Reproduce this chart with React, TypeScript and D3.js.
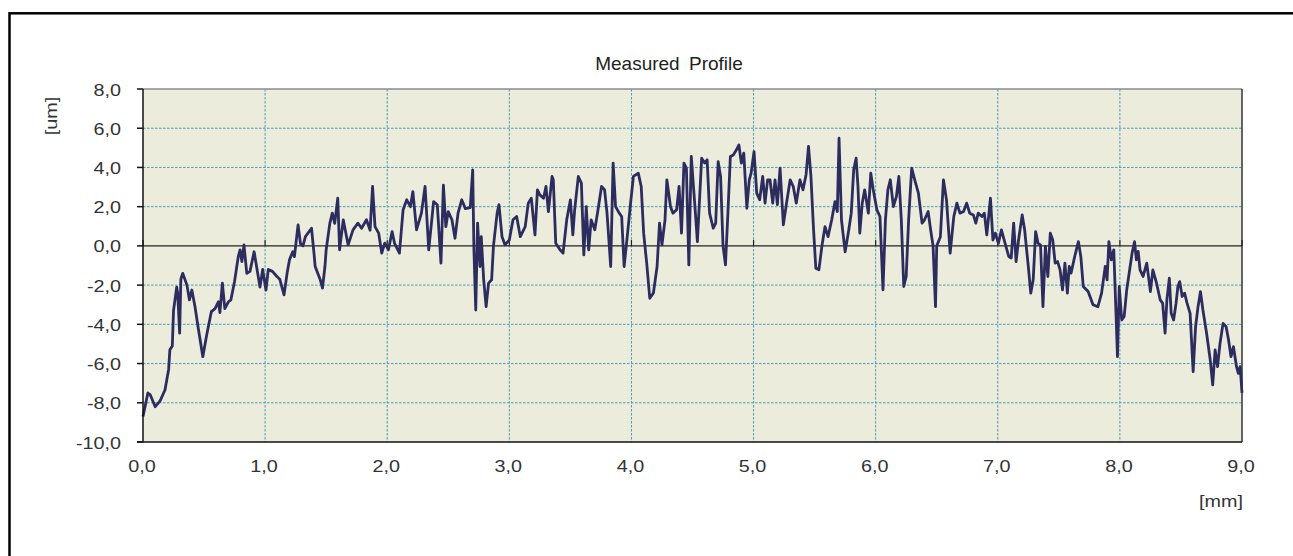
import React from "react";
import * as d3 from "d3";

const title = "Measured Profile";
const yUnit = "[um]";
const xUnit = "[mm]";
const xTicks = [0, 1, 2, 3, 4, 5, 6, 7, 8, 9];
const yTicks = [-10, -8, -6, -4, -2, 0, 2, 4, 6, 8];

const profileX = [0.00,0.04,0.06,0.10,0.14,0.18,0.21,0.22,0.24,0.25,0.276,0.284,0.30,0.31,0.325,0.36,0.38,0.40,0.426,0.45,0.49,0.52,0.56,0.59,0.617,0.63,0.65,0.67,0.70,0.72,0.75,0.78,0.795,0.81,0.827,0.85,0.876,0.91,0.93,0.958,0.98,1.007,1.026,1.06,1.095,1.12,1.155,1.18,1.20,1.226,1.24,1.27,1.29,1.31,1.33,1.38,1.40,1.41,1.45,1.47,1.49,1.50,1.53,1.55,1.57,1.595,1.61,1.64,1.68,1.72,1.76,1.79,1.83,1.86,1.88,1.90,1.93,1.955,1.98,2.01,2.04,2.06,2.10,2.13,2.16,2.19,2.21,2.24,2.28,2.31,2.34,2.38,2.41,2.44,2.46,2.48,2.50,2.53,2.555,2.58,2.61,2.64,2.68,2.70,2.71,2.725,2.74,2.76,2.77,2.79,2.81,2.83,2.855,2.87,2.90,2.915,2.94,2.965,3.0,3.03,3.06,3.09,3.13,3.155,3.18,3.21,3.23,3.25,3.28,3.30,3.32,3.35,3.36,3.38,3.415,3.44,3.47,3.50,3.52,3.535,3.565,3.59,3.61,3.63,3.65,3.67,3.70,3.73,3.755,3.78,3.80,3.83,3.85,3.87,3.90,3.92,3.94,3.96,3.99,4.016,4.056,4.08,4.10,4.125,4.15,4.18,4.21,4.23,4.25,4.275,4.29,4.32,4.34,4.37,4.39,4.41,4.43,4.45,4.47,4.49,4.52,4.54,4.575,4.60,4.62,4.64,4.67,4.69,4.71,4.73,4.75,4.77,4.79,4.81,4.835,4.86,4.88,4.90,4.92,4.945,4.965,4.98,5.004,5.026,5.05,5.075,5.094,5.115,5.135,5.157,5.176,5.195,5.217,5.244,5.27,5.30,5.325,5.35,5.38,5.405,5.43,5.45,5.47,5.49,5.51,5.535,5.56,5.585,5.61,5.64,5.667,5.686,5.70,5.72,5.75,5.78,5.80,5.82,5.84,5.855,5.87,5.89,5.91,5.94,5.96,5.98,6.01,6.035,6.06,6.08,6.10,6.12,6.145,6.17,6.19,6.21,6.23,6.25,6.27,6.295,6.32,6.35,6.38,6.40,6.43,6.45,6.47,6.49,6.50,6.53,6.555,6.58,6.61,6.64,6.665,6.69,6.72,6.745,6.77,6.80,6.82,6.84,6.87,6.89,6.91,6.94,6.96,6.98,7.005,7.03,7.06,7.09,7.11,7.13,7.15,7.17,7.20,7.22,7.25,7.27,7.29,7.31,7.33,7.35,7.37,7.39,7.41,7.43,7.45,7.47,7.49,7.51,7.53,7.55,7.57,7.585,7.60,7.63,7.66,7.68,7.70,7.74,7.78,7.82,7.85,7.88,7.895,7.91,7.93,7.95,7.97,7.98,7.995,8.015,8.035,8.056,8.08,8.10,8.12,8.135,8.15,8.165,8.19,8.22,8.25,8.27,8.30,8.33,8.35,8.37,8.385,8.405,8.42,8.44,8.46,8.475,8.49,8.51,8.53,8.55,8.575,8.60,8.62,8.64,8.66,8.68,8.71,8.74,8.76,8.78,8.80,8.82,8.845,8.87,8.89,8.91,8.93,8.955,8.97,8.985,9.0];

const profileY = [-8.7,-7.5,-7.6,-8.2,-7.9,-7.35,-6.3,-5.3,-5.1,-3.3,-2.1,-2.4,-4.45,-1.7,-1.4,-2.0,-2.75,-2.25,-3.1,-4.1,-5.65,-4.6,-3.35,-3.2,-2.85,-3.4,-1.9,-3.2,-2.85,-2.75,-1.8,-0.55,-0.2,-0.8,0.05,-1.4,-1.3,-0.3,-1.05,-2.1,-1.2,-2.25,-1.2,-1.3,-1.55,-1.7,-2.5,-1.4,-0.7,-0.3,-0.55,1.07,0.1,0.0,0.47,0.9,-0.36,-1.05,-1.7,-2.15,-1.05,-0.2,1.15,1.67,1.15,2.43,-0.2,1.33,0.05,0.82,1.16,0.9,1.33,0.8,3.03,0.98,0.65,-0.37,0.14,-0.2,0.73,0.13,-0.37,1.84,2.35,2.0,2.77,0.82,1.67,3.03,-0.2,2.26,2.1,-0.88,3.1,0.98,1.75,1.33,0.39,1.67,2.35,1.9,1.95,3.88,-0.2,-3.27,1.16,-1.05,0.47,-1.73,-3.1,-1.9,-1.73,0.0,1.67,2.1,0.47,0.05,0.3,1.33,1.5,0.47,0.98,2.18,2.43,0.56,2.86,2.6,2.43,3.03,1.75,3.54,3.37,0.14,-0.2,-0.37,1.33,2.35,0.56,1.84,3.54,3.2,-0.46,2.0,-0.2,1.33,0.82,2.0,3.03,2.86,1.67,-1.05,4.22,2.0,1.67,1.5,-1.05,0.13,2.0,3.54,3.71,3.03,0.65,-0.88,-2.67,-2.4,-1.05,1.16,0.05,1.33,3.37,2.0,1.67,1.84,3.03,0.65,4.22,3.97,-0.97,4.56,2.0,0.22,4.47,4.22,4.39,1.67,0.9,1.16,4.3,3.54,0.0,-0.97,1.67,4.56,4.64,4.9,5.15,4.22,4.73,1.92,3.37,3.71,4.81,2.69,2.35,3.54,2.18,3.37,3.37,2.18,3.37,2.1,3.97,1.07,2.18,3.37,3.03,2.18,3.37,2.86,3.63,5.07,3.54,0.98,-1.14,-1.22,0.0,0.98,0.47,1.33,2.26,1.75,5.49,1.33,-0.3,0.82,1.67,3.88,4.47,3.03,0.65,2.18,2.86,1.67,3.71,2.86,1.84,1.5,-2.24,1.33,2.86,3.37,2.0,2.52,3.54,1.33,-2.07,-1.56,1.33,3.97,3.37,2.69,1.16,1.33,1.75,0.82,0.0,-3.1,0.0,0.47,3.37,2.35,-0.37,1.5,2.18,1.67,1.75,2.18,1.67,1.58,1.16,1.67,1.5,1.67,0.56,2.43,0.3,0.65,0.13,0.82,0.13,-0.54,-0.62,1.16,-0.8,0.3,1.58,0.82,-1.05,-2.41,-1.73,0.73,0.13,0.05,-3.1,-0.03,-1.56,0.65,0.3,-0.88,-0.8,-1.22,-2.24,-0.88,-2.41,-1.05,-1.39,-0.54,0.22,-0.54,-2.07,-2.33,-3.0,-3.1,-2.41,-1.05,-1.73,0.22,-0.71,-0.2,-3.78,-5.65,-2.07,-3.78,-3.6,-2.24,-1.22,-0.37,0.22,-0.71,-0.28,-1.22,-1.56,-0.88,-2.33,-1.22,-1.9,-2.75,-2.92,-4.45,-2.75,-1.65,-3.44,-3.78,-2.92,-2.07,-1.82,-2.58,-2.41,-2.92,-3.44,-6.41,-4.12,-3.1,-2.33,-3.27,-4.45,-5.82,-7.09,-5.3,-6.16,-4.97,-3.95,-4.12,-4.8,-5.65,-5.14,-6.16,-6.5,-6.16,-7.5];

const W = 1293;
const H = 556;
const left = 143;
const right = 1242;
const top = 89;
const bottom = 442;
const FONT = "'Liberation Sans', Arial, sans-serif";
const LABEL_SIZE = 16.5;
const STRETCH = 1.2;

function Label(props: { x: number; y: number; anchor: string; rotate?: number; children: React.ReactNode }) {
  const rot = props.rotate ? ` rotate(${props.rotate})` : "";
  return (
    <text
      transform={`translate(${props.x},${props.y})${rot} scale(${STRETCH},1)`}
      textAnchor={props.anchor}
      fontFamily={FONT}
      fontSize={LABEL_SIZE}
      fill="#333"
    >
      {props.children}
    </text>
  );
}

export default function App() {
  const x = d3.scaleLinear().domain([0, 9]).range([left, right]);
  const y = d3.scaleLinear().domain([-10, 8]).range([bottom, top]);
  const pts: [number, number][] = profileX.map((v, i) => [v, profileY[i]]);
  const line = d3
    .line<[number, number]>()
    .x((d) => x(d[0]))
    .y((d) => y(d[1]));
  const fmt = (v: number) => v.toFixed(1).replace(".", ",");

  return (
    <svg
      width={W}
      height={H}
      style={{ position: "absolute", left: 0, top: 0, background: "#fff" }}
    >
      <rect x={9.5} y={13.3} width={1400} height={700} fill="none" stroke="#000" strokeWidth={2.5} />
      <text x={669} y={70} textAnchor="middle" fontFamily={FONT} fontSize={19} wordSpacing={4} fill="#222">
        {title}
      </text>
      <rect x={left} y={top} width={right - left} height={bottom - top} fill="#ECECDC" />
      {yTicks
        .filter((t) => t !== -10 && t !== 0 && t !== 8)
        .map((t) => (
          <line key={"gy" + t} x1={left} x2={right} y1={y(t)} y2={y(t)} stroke="#4A9DB3" strokeWidth={1} strokeDasharray="2.5,1.5" />
        ))}
      {xTicks
        .filter((t) => t !== 0 && t !== 9)
        .map((t) => (
          <line key={"gx" + t} x1={x(t)} x2={x(t)} y1={top} y2={bottom} stroke="#4A9DB3" strokeWidth={1} strokeDasharray="2.5,1.5" />
        ))}
      <line x1={left} x2={right} y1={top} y2={top} stroke="#8a8a8a" strokeWidth={1.5} />
      <line x1={right} x2={right} y1={top} y2={bottom} stroke="#333" strokeWidth={1.5} />
      <line x1={left} x2={right} y1={y(0)} y2={y(0)} stroke="#222" strokeWidth={1.2} />
      {xTicks.map((t) => (
        <line key={"zt" + t} x1={x(t)} x2={x(t)} y1={y(0)} y2={y(0) - 6} stroke="#222" strokeWidth={1.2} />
      ))}
      <path d={line(pts) || ""} fill="none" stroke="#2C2C5E" strokeWidth={2.8} strokeLinejoin="round" />
      <line x1={left} x2={left} y1={top} y2={bottom} stroke="#111" strokeWidth={1.5} />
      <line x1={left - 6} x2={right} y1={bottom} y2={bottom} stroke="#111" strokeWidth={1.5} />
      {yTicks.map((t) => (
        <g key={"yt" + t}>
          <line x1={left - 6} x2={left} y1={y(t)} y2={y(t)} stroke="#111" strokeWidth={1.5} />
          <Label x={121} y={y(t) + 6.5} anchor="end">
            {fmt(t)}
          </Label>
        </g>
      ))}
      {xTicks.map((t) => (
        <Label key={"xt" + t} x={x(t) - 1} y={472} anchor="middle">
          {fmt(t)}
        </Label>
      ))}
      <Label x={1243} y={507} anchor="end">
        {xUnit}
      </Label>
      <Label x={57} y={116} anchor="middle" rotate={-90}>
        {yUnit}
      </Label>
    </svg>
  );
}
